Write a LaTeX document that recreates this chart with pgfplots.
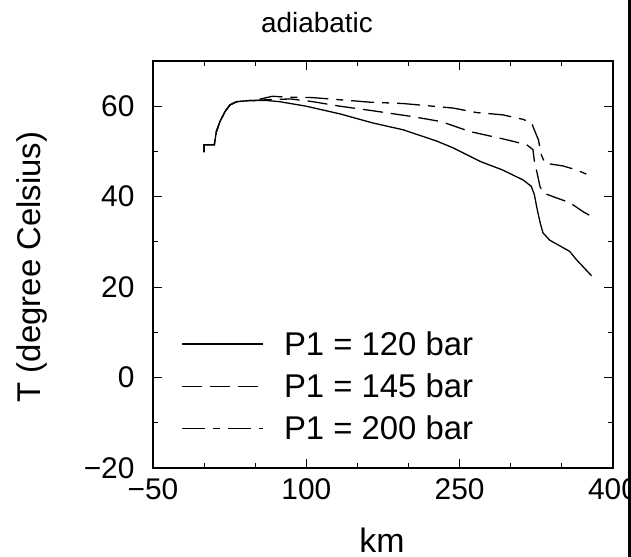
\documentclass[border=0pt]{standalone}
\usepackage{pgfplots}
\pgfplotsset{compat=1.18}
\usepackage{fontspec}
\setmainfont{Liberation Sans}
\newcommand{\bigf}{\fontsize{30}{36}\selectfont}
\begin{document}
\begin{tikzpicture}[x=1bp,y=1bp]
\begin{axis}[
  at={(153bp,89bp)}, anchor=south west,
  scale only axis, width=460bp, height=407bp,
  xmin=-50, xmax=400, ymin=-20, ymax=70,
  xtick={-50,100,250,400}, xticklabels={−50,100,250,400},
  minor xtick={0,50,150,200,300,350},
  ytick={-20,0,20,40,60}, yticklabels={−20,0,20,40,60},
  minor ytick={-10,10,30,50},
  tick align=inside, major tick length=9bp, minor tick length=5bp,
  every tick/.style={black, line width=1.2bp},
  axis line style={line width=1.5bp},
  ticklabel style={font=\bigf},
  xticklabel style={yshift=-7bp},
  yticklabel style={xshift=-15bp},
  legend style={draw=none, fill=none, inner sep=0pt, outer sep=0pt,
    at={(axis description cs:0.0624,0.336)}, anchor=north west,
    font=\fontsize{33}{38}\selectfont, row sep=17bp, column sep=20bp, nodes={inner sep=0pt}},
  legend cell align=left,
  legend image code/.code={\draw[#1] (0bp,0bp) -- (81bp,0bp);},
]
\addplot[black, line width=1.3bp] coordinates {
(-1,50) (0,50) (0,51.5) (10,51.5) (12,54.4) (15.5,56.6) (20.4,58.8) (25.3,60.3)
(31.8,61) (41.6,61.2) (60,61.3) (74,61) (100,60) (133,58.3) (165,56.3)
(194.5,54.8) (227.5,52.3) (243.5,50.8) (270,47.8) (292,45.9) (312,43.7)
(320,42.3) (323,40.5) (326,37) (329,34) (331.5,32) (338,30.4) (345,29.5)
(357.6,27.9) (364.5,26) (372,24.2) (379,22.5)};
\addlegendentry{P1 = 120 bar}
\addplot[black, line width=1.3bp, dash pattern=on 20bp off 8bp] coordinates {
(-1,50) (0,50) (0,51.5) (10,51.5) (12,54.4) (15.5,56.6) (20.4,58.8) (25.3,60.3)
(31.8,61) (41.6,61.2) (50,61.3) (67,61.5) (85,61.6) (106.5,61) (133,60) (165,59)
(204,57.7) (232,56.6) (260,54.4) (292,52.8) (315.5,51.5) (321.7,50.4) (323,48)
(325,46) (328.6,42.2) (332,40.8) (345,39.7) (357.6,38.7) (370.6,36.7) (380,35.5)};
\addlegendentry{P1 = 145 bar}
\addplot[black, line width=1.3bp, dash pattern=on 23bp off 8bp on 7bp off 8bp] coordinates {
(-1,50) (0,50) (0,51.5) (10,51.5) (12,54.4) (15.5,56.6) (20.4,58.8) (25.3,60.3)
(31.8,61) (41.6,61.2) (55,61.6) (67,62.2) (80.7,62) (106.5,61.9) (145.6,61.2)
(162,60.9) (194.5,60.6) (243.5,59.6) (266.6,58.6) (292,58.1) (312,57.1)
(320.4,56.3) (323.7,54.4) (327,52.6) (330,49.2) (333.4,47.4) (351,46.8)
(364.5,45.9) (380,44.4)};
\addlegendentry{P1 = 200 bar}
\end{axis}
\node[font=\fontsize{28}{34}\selectfont, anchor=base] at (317bp,524bp) {adiabatic};
\node[font=\fontsize{34}{40}\selectfont, anchor=base] at (382bp,5bp) {km};
\node[font=\fontsize{33}{38}\selectfont, rotate=90, anchor=base] at (40bp,290bp) {T (degree Celsius)};
\draw[line width=2.3bp] (629.5bp,0bp) -- (629.5bp,557bp);
\pgfresetboundingbox
\useasboundingbox (0bp,0bp) rectangle (631bp,557bp);
\end{tikzpicture}
\end{document}
